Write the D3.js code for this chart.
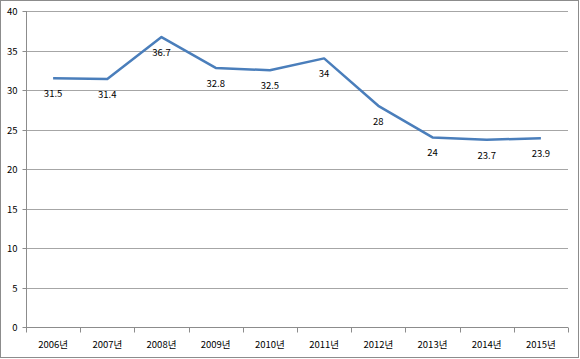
<!DOCTYPE html>
<html><head><meta charset="utf-8">
<script src="https://cdn.jsdelivr.net/npm/d3@7"></script>
<style>body{margin:0;background:#fff}svg{display:block}</style>
</head><body>
<svg id="c" width="580" height="359"></svg>
<script>
const categories = ["2006년","2007년","2008년","2009년","2010년","2011년","2012년","2013년","2014년","2015년"];
const values = [31.5,31.4,36.7,32.8,32.5,34,28,24,23.7,23.9];
const yTicks = [0,5,10,15,20,25,30,35,40];

const svg = d3.select("#c");
const font = "'Noto Sans CJK KR','Malgun Gothic',sans-serif";
svg.append("rect").attr("x",0.5).attr("y",0.5).attr("width",578).attr("height",357)
  .attr("fill","#fff").attr("stroke","#8c8c8c");

const L=26, R=568, T=11, B=327;
const x = d3.scaleBand().domain(categories).range([L,R]);
const y = d3.scaleLinear().domain([0,40]).range([B,T]);

// gridlines
svg.append("g").selectAll("line").data(yTicks.filter(d=>d>0)).join("line")
  .attr("x1",L).attr("x2",R).attr("y1",d=>Math.round(y(d))+0.5).attr("y2",d=>Math.round(y(d))+0.5)
  .attr("stroke","#a6a6a6").attr("stroke-width",1);

// y axis
const ya = svg.append("g").attr("transform",`translate(${L+0.5},0)`)
  .call(d3.axisLeft(y).tickValues(yTicks).tickSize(4).tickPadding(5));
ya.select(".domain").attr("stroke","#8c8c8c").attr("d",`M0,${T}V${B+0.5}`);
ya.selectAll(".tick line").attr("stroke","#8c8c8c");
ya.selectAll(".tick").attr("transform",d=>`translate(0,${Math.round(y(d))+0.5})`);
ya.selectAll("text").attr("font-family",font).attr("font-size",9.5).attr("fill","#000");

// x axis
const xa = svg.append("g").attr("transform",`translate(0,${B+0.5})`);
xa.append("line").attr("x1",L).attr("x2",R).attr("stroke","#8c8c8c");
const bounds = categories.map(c=>x(c)).concat([R]);
xa.selectAll("line.tk").data(bounds).join("line").attr("class","tk")
  .attr("x1",d=>Math.round(d)+0.5).attr("x2",d=>Math.round(d)+0.5).attr("y1",0).attr("y2",5)
  .attr("stroke","#8c8c8c");
xa.selectAll("text").data(categories).join("text")
  .attr("x",d=>x(d)+x.bandwidth()/2).attr("y",20)
  .attr("text-anchor","middle").attr("font-family",font).attr("font-size",9.5).attr("fill","#000")
  .text(d=>d);

// line
const pts = categories.map((c,i)=>[x(c)+x.bandwidth()/2, y(values[i])]);
svg.append("path").attr("d",d3.line()(pts)).attr("fill","none")
  .attr("stroke","#4a7ebb").attr("stroke-width",2.5).attr("stroke-linejoin","round");

// labels
svg.append("g").selectAll("text").data(categories).join("text")
  .attr("x",d=>x(d)+x.bandwidth()/2).attr("y",(d,i)=>y(values[i])+19)
  .attr("text-anchor","middle").attr("font-family",font).attr("font-size",9.5).attr("fill","#000")
  .text((d,i)=>values[i]);
</script>
</body></html>
